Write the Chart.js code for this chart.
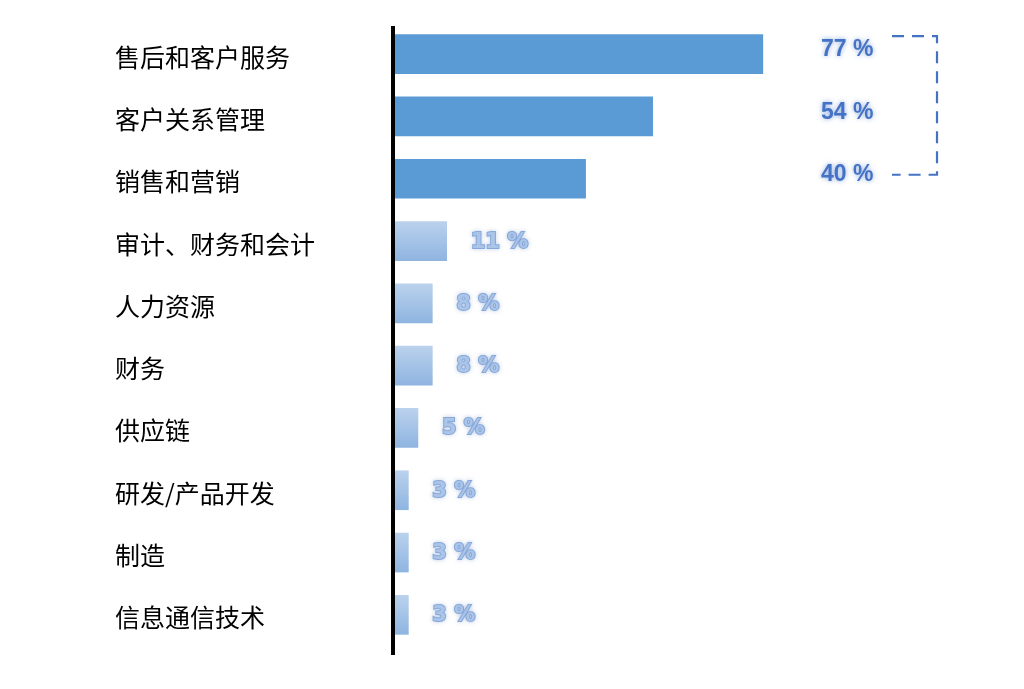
<!DOCTYPE html>
<html>
<head>
<meta charset="utf-8">
<script src="https://cdn.jsdelivr.net/npm/chart.js"></script>
<style>
  html, body { margin: 0; padding: 0; background: #fff; }
  #wrap { width: 1024px; height: 689px; }
</style>
</head>
<body>
<div id="wrap"><canvas id="chart"></canvas></div>
<script>
// Datos del gráfico
const categories = ['售后和客户服务', '客户关系管理', '销售和营销', '审计、财务和会计', '人力资源',
    '财务', '供应链', '研发/产品开发', '制造', '信息通信技术'];
const percentages = [77, 54, 40, 11, 8, 8, 5, 3, 3, 3];
const highlighted = [true, true, true, false, false, false, false, false, false, false];

const COLORS = {
    bar: '#5B9BD5',
    barLightTop: '#BBD2ED',
    barLightBottom: '#8EB4E0',
    label: '#4472C4',
    labelLight: '#ABC5E9',
    labelLightEdge: '#86A8DA',
};

function barColor(context) {
    const i = context.dataIndex;
    if (highlighted[i]) return COLORS.bar;
    const chart = context.chart;
    const y = chart.scales.y;
    if (!chart.chartArea || !y) return COLORS.barLightBottom;
    const cy = y.getPixelForValue(i);
    const g = chart.ctx.createLinearGradient(0, cy - 20, 0, cy + 20);
    g.addColorStop(0, COLORS.barLightTop);
    g.addColorStop(1, COLORS.barLightBottom);
    return g;
}

// Eje vertical, etiquetas de valores y corchete punteado
const valueLabels = {
    id: 'valueLabels',
    afterDatasetsDraw(chart) {
        const ctx = chart.ctx;
        const meta = chart.getDatasetMeta(0);
        const area = chart.chartArea;
        ctx.save();

        // línea del eje
        ctx.strokeStyle = '#000';
        ctx.lineWidth = 4;
        ctx.beginPath();
        ctx.moveTo(area.left - 1, area.top + 3);
        ctx.lineTo(area.left - 1, area.bottom + 9);
        ctx.stroke();

        ctx.textBaseline = 'middle';
        ctx.textAlign = 'left';
        meta.data.forEach((bar, i) => {
            const text = percentages[i] + ' %';
            if (highlighted[i]) {
                ctx.font = 'bold 23px "Liberation Sans", Arial, sans-serif';
                ctx.shadowColor = 'rgba(68, 114, 196, 0.6)';
                ctx.shadowBlur = 5;
                ctx.fillStyle = COLORS.label;
                ctx.fillText(text, area.right - 52, bar.y - 4);
            } else {
                ctx.font = 'bold 21px "DejaVu Sans", Verdana, sans-serif';
                ctx.shadowColor = 'rgba(120, 150, 200, 0.55)';
                ctx.shadowBlur = 4;
                ctx.lineWidth = 2;
                ctx.strokeStyle = COLORS.labelLightEdge;
                ctx.strokeText(text, bar.x + 24, bar.y + 1);
                ctx.shadowBlur = 0;
                ctx.fillStyle = COLORS.labelLight;
                ctx.fillText(text, bar.x + 24, bar.y + 1);
            }
        });
        ctx.shadowBlur = 0;

        // corchete que agrupa los tres primeros
        const top = meta.data[0].y - 18;
        const bottom = meta.data[2].y - 4;
        const left = area.right + 19;
        const right = area.right + 64;
        ctx.strokeStyle = COLORS.label;
        ctx.lineWidth = 2.2;
        ctx.setLineDash([12, 8]);
        ctx.beginPath();
        ctx.moveTo(left, top);
        ctx.lineTo(right, top);
        ctx.lineTo(right, bottom);
        ctx.lineTo(left, bottom);
        ctx.stroke();
        ctx.restore();
    }
};

new Chart(document.getElementById('chart'), {
    type: 'bar',
    data: {
        labels: categories,
        datasets: [{
            data: percentages,
            backgroundColor: barColor,
            borderWidth: 0,
            barThickness: 39,
        }]
    },
    options: {
        indexAxis: 'y',
        responsive: true,
        maintainAspectRatio: false,
        animation: false,
        layout: {
            padding: { left: 115, right: 151, top: 23, bottom: 43 }
        },
        plugins: {
            legend: { display: false },
            tooltip: { enabled: false },
        },
        scales: {
            x: {
                display: false,
                min: 0,
                max: 100,
            },
            y: {
                grid: { display: false, drawTicks: false },
                border: { display: false },
                afterFit(scale) { scale.width = 279; },
                ticks: {
                    crossAlign: 'far',
                    labelOffset: 3,
                    color: '#000',
                    font: { family: '"Noto Sans CJK SC", sans-serif', size: 25 },
                }
            }
        }
    },
    plugins: [valueLabels]
});
</script>
</body>
</html>
